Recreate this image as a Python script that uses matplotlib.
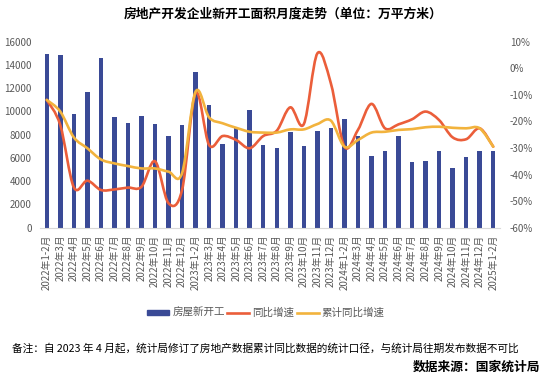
import matplotlib.pyplot as plt
import numpy as np
from matplotlib.path import Path
from matplotlib.patches import PathPatch, Patch
from matplotlib.lines import Line2D

plt.rcParams['font.family'] = ['Noto Sans CJK SC', 'DejaVu Sans']

months = ['2022年1-2月', '2022年3月', '2022年4月', '2022年5月', '2022年6月', '2022年7月',
          '2022年8月', '2022年9月', '2022年10月', '2022年11月', '2022年12月',
          '2023年1-2月', '2023年3月', '2023年4月', '2023年5月', '2023年6月', '2023年7月',
          '2023年8月', '2023年9月', '2023年10月', '2023年11月', '2023年12月',
          '2024年1-2月', '2024年3月', '2024年4月', '2024年5月', '2024年6月', '2024年7月',
          '2024年8月', '2024年9月', '2024年10月', '2024年11月', '2024年12月',
          '2025年1-2月']

# 房屋新开工面积 (万平方米)
new_start = [14900, 14850, 9780, 11670, 14600, 9520, 9000, 9610, 8920, 7890, 8830,
             13390, 10550, 7200, 8550, 10120, 7110, 6860, 8230, 7030, 8320, 8580,
             9350, 7890, 6170, 6600, 7890, 5650, 5740, 6600, 5140, 6080, 6600, 6600]

# 同比增速 (%)
yoy = [-11.9, -21.4, -44.8, -42.3, -45.8, -45.6, -44.9, -44.6, -35.0, -50.8, -45.8,
       -9.3, -28.9, -25.5, -27.0, -30.1, -25.5, -23.5, -14.7, -21.0, 5.6, -5.7,
       -29.5, -23.2, -13.4, -22.6, -21.1, -19.2, -16.3, -19.5, -26.0, -26.7, -22.6, -29.5]

# 累计同比增速 (%)
cum_yoy = [-11.9, -16.3, -26.0, -30.1, -34.3, -35.8, -36.8, -37.7, -37.7, -38.9, -39.5,
           -8.8, -18.5, -20.7, -22.4, -23.9, -24.2, -24.2, -23.0, -23.0, -21.0, -19.7,
           -29.5, -27.0, -24.2, -23.9, -23.2, -22.9, -22.2, -22.0, -22.4, -22.6, -22.6, -29.5]

bar_color = '#3A4A96'
red = '#EB5E3A'
gold = '#F2B33D'
gray = '#595959'


def smooth_path(xs, ys):
    # excel style smoothed line: bezier segments with catmull-rom control points
    pts = np.column_stack([xs, ys]).astype(float)
    n = len(pts)
    verts = [pts[0]]
    codes = [Path.MOVETO]
    for i in range(n - 1):
        p0 = pts[max(i - 1, 0)]
        p1 = pts[i]
        p2 = pts[i + 1]
        p3 = pts[min(i + 2, n - 1)]
        c1 = p1 + (p2 - p0) / 6.0
        c2 = p2 - (p3 - p1) / 6.0
        verts += [c1, c2, p2]
        codes += [Path.CURVE4] * 3
    return Path(verts, codes)


fig = plt.figure(figsize=(5.54, 3.79), dpi=100)
ax = fig.add_axes([40 / 554, 1 - 227.7 / 379, 460 / 554, 186 / 379])
ax2 = ax.twinx()

x = np.arange(len(months))
ax.bar(x, new_start, width=0.33, color=bar_color, zorder=1)
ax.set_xlim(-0.5, len(months) - 0.5)
ax.set_ylim(0, 16000)
ax.set_yticks(np.arange(0, 16001, 2000))
ax.set_xticks(x)
ax.set_xticklabels(months, rotation=90, fontsize=7, color=gray)
ax.tick_params(axis='both', length=0, labelsize=7, labelcolor=gray)
ax.tick_params(axis='x', pad=5)
ax.tick_params(axis='y', pad=6)

for p, c in [(smooth_path(x, yoy), red), (smooth_path(x, cum_yoy), gold)]:
    ax2.add_patch(PathPatch(p, facecolor='none', edgecolor=c, lw=1.9,
                            capstyle='round', joinstyle='round', zorder=3))
ax2.set_ylim(-60, 10)
ax2.set_yticks(np.arange(-60, 11, 10))
ax2.set_yticklabels([f'{v}%' for v in range(-60, 11, 10)])
ax2.tick_params(axis='y', length=0, labelsize=7, labelcolor=gray, pad=7)

for a in (ax, ax2):
    for s in a.spines.values():
        s.set_visible(False)
ax.spines['bottom'].set_visible(True)
ax.spines['bottom'].set_color('#D9D9D9')
ax.spines['bottom'].set_linewidth(0.8)

fig.text(283 / 554, 1 - 14 / 379, '房地产开发企业新开工面积月度走势（单位：万平方米）',
         ha='center', va='center', fontsize=9.2, fontweight='bold')

handles = [Patch(color=bar_color), Line2D([], [], color=red, lw=1.9),
           Line2D([], [], color=gold, lw=1.9)]
fig.legend(handles, ['房屋新开工', '同比增速', '累计同比增速'], loc='center',
           bbox_to_anchor=(266 / 554, 1 - 313 / 379), ncol=3, frameon=False,
           fontsize=7.6, labelcolor=gray, handlelength=2.1, handletextpad=0.3,
           columnspacing=0.2, handleheight=0.45)

fig.text(12 / 554, 1 - 348 / 379,
         '备注：自 2023 年 4 月起，统计局修订了房地产数据累计同比数据的统计口径，与统计局往期发布数据不可比',
         ha='left', va='center', fontsize=7.7, color='black')
fig.text(540 / 554, 1 - 367 / 379, '数据来源：国家统计局', ha='right', va='center',
         fontsize=9.2, fontweight='bold')

plt.savefig('out.png', dpi=100)
